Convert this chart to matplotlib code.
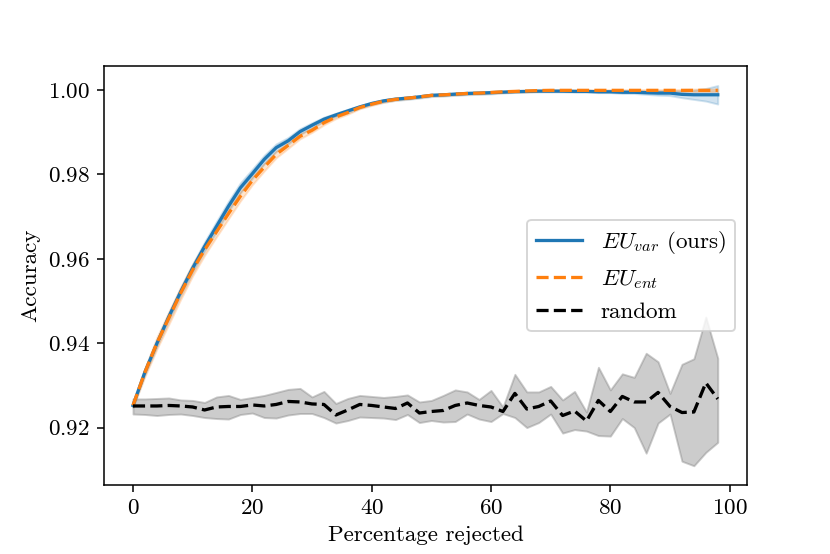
import numpy as np
import matplotlib
matplotlib.use('Agg')
import matplotlib.pyplot as plt

plt.rcParams['font.family'] = 'cmr10'
plt.rcParams['font.size'] = 12
plt.rcParams['mathtext.fontset'] = 'cm'
plt.rcParams['axes.formatter.use_mathtext'] = True

# percentage of rejected samples
rejected = list(range(0, 100, 2))

# EU_var (ours): mean accuracy and spread
var_mean = [0.92524, 0.93317, 0.93993, 0.94626, 0.95221, 0.95779, 0.96293, 0.96769, 0.97245, 0.97683,
            0.98017, 0.98357, 0.98636, 0.98798, 0.99017, 0.99167, 0.99310, 0.99412, 0.99507, 0.99602,
            0.99683, 0.99745, 0.99786, 0.99810, 0.99840, 0.99876, 0.99888, 0.99905, 0.99921, 0.99929,
            0.99940, 0.99952, 0.99964, 0.99969, 0.99976, 0.99976, 0.99976, 0.99970, 0.99970, 0.99960,
            0.99960, 0.99950, 0.99950, 0.99940, 0.99930, 0.99930, 0.99900, 0.99890, 0.99890, 0.99890]
var_std = [0.0004, 0.0006, 0.0007, 0.0008, 0.0009, 0.0010, 0.0011, 0.0012, 0.0012, 0.0012,
           0.0011, 0.0010, 0.0009, 0.0008, 0.0007, 0.0006, 0.0005, 0.0004, 0.0004, 0.0003,
           0.0003, 0.0003, 0.0003, 0.0003, 0.0003, 0.0003, 0.0003, 0.0003, 0.0003, 0.0003,
           0.0003, 0.0002, 0.0002, 0.0002, 0.0002, 0.0002, 0.0002, 0.0002, 0.0002, 0.0002,
           0.0002, 0.0003, 0.0003, 0.0004, 0.0005, 0.0006, 0.0008, 0.0011, 0.0015, 0.0022]

# EU_ent: mean accuracy and spread
ent_mean = [0.92524, 0.93310, 0.94000, 0.94595, 0.95190, 0.95738, 0.96214, 0.96643, 0.97071, 0.97483,
            0.97857, 0.98174, 0.98476, 0.98690, 0.98905, 0.99048, 0.99226, 0.99364, 0.99469, 0.99588,
            0.99667, 0.99738, 0.99781, 0.99810, 0.99840, 0.99876, 0.99888, 0.99905, 0.99921, 0.99929,
            0.99945, 0.99960, 0.99970, 0.99980, 0.99990, 0.99995, 0.99995, 0.99995, 0.99995, 0.99995,
            0.99995, 0.99995, 0.99995, 0.99995, 0.99995, 0.99995, 0.99995, 0.99995, 0.99995, 0.99995]
ent_std = [0.0004, 0.0010, 0.0014, 0.0015, 0.0015, 0.0014, 0.0013, 0.0012, 0.0012, 0.0011,
           0.0010, 0.0009, 0.0008, 0.0007, 0.0006, 0.0005, 0.0005, 0.0004, 0.0004, 0.0003,
           0.0003, 0.0003, 0.0002, 0.0002, 0.0002, 0.0002, 0.0002, 0.0002, 0.0002, 0.0002,
           0.0002, 0.0002, 0.0002, 0.0002, 0.0002, 0.0002, 0.0002, 0.0002, 0.0002, 0.0002,
           0.0002, 0.0002, 0.0002, 0.0002, 0.0002, 0.0002, 0.0002, 0.0003, 0.0003, 0.0003]

# random rejection: mean with lower / upper band
rnd_mean = [0.92512, 0.92512, 0.92512, 0.92524, 0.92512, 0.92488, 0.92417, 0.92488, 0.92500, 0.92500,
            0.92536, 0.92512, 0.92548, 0.92619, 0.92607, 0.92560, 0.92548, 0.92298, 0.92417, 0.92548,
            0.92524, 0.92488, 0.92452, 0.92583, 0.92345, 0.92381, 0.92405, 0.92524, 0.92583, 0.92524,
            0.92488, 0.92381, 0.92810, 0.92440, 0.92500, 0.92631, 0.92286, 0.92393, 0.92155, 0.92643,
            0.92381, 0.92738, 0.92607, 0.92607, 0.92833, 0.92500, 0.92357, 0.92369, 0.93060, 0.92679]
rnd_hi = [0.92679, 0.92679, 0.92690, 0.92702, 0.92655, 0.92643, 0.92595, 0.92726, 0.92762, 0.92667,
          0.92714, 0.92762, 0.92833, 0.92905, 0.92929, 0.92726, 0.92857, 0.92571, 0.92690, 0.92762,
          0.92738, 0.92714, 0.92738, 0.92774, 0.92607, 0.92643, 0.92762, 0.92893, 0.92845, 0.92667,
          0.92881, 0.92488, 0.93262, 0.92845, 0.92845, 0.92976, 0.92655, 0.92857, 0.92369, 0.93429,
          0.92893, 0.93274, 0.93190, 0.93762, 0.93560, 0.92810, 0.93500, 0.93631, 0.94619, 0.93643]
rnd_lo = [0.92321, 0.92310, 0.92286, 0.92310, 0.92321, 0.92286, 0.92238, 0.92214, 0.92202, 0.92310,
          0.92345, 0.92238, 0.92226, 0.92298, 0.92333, 0.92333, 0.92238, 0.92107, 0.92167, 0.92250,
          0.92238, 0.92226, 0.92190, 0.92310, 0.92119, 0.92167, 0.92131, 0.92143, 0.92321, 0.92202,
          0.92143, 0.92333, 0.92238, 0.92000, 0.92119, 0.92321, 0.91869, 0.91952, 0.91917, 0.91810,
          0.91798, 0.92214, 0.92000, 0.91393, 0.92107, 0.92321, 0.91202, 0.91095, 0.91412, 0.91650]

x = np.array(rejected)
vm, vs = np.array(var_mean), np.array(var_std)
em, es = np.array(ent_mean), np.array(ent_std)

fig = plt.figure(figsize=(830 / 138.4, 554 / 138.4), dpi=138.4)
ax = fig.add_axes([0.125, 0.125, 0.775, 0.755])

ax.fill_between(x, vm - vs, vm + vs, color='C0', alpha=0.2)
ax.plot(x, vm, color='C0', lw=1.7, label=r'$EU_{var}$ (ours)')
ax.fill_between(x, em - es, em + es, color='C1', alpha=0.2)
ax.plot(x, em, '--', color='C1', lw=1.7, label=r'$EU_{ent}$')
ax.fill_between(x, rnd_lo, rnd_hi, color='gray', alpha=0.4)
ax.plot(x, rnd_mean, 'k--', lw=1.7, label='random')

ax.set_xlabel('Percentage rejected')
ax.set_ylabel('Accuracy')
ax.legend(loc='center right')

fig.savefig('out.png', dpi=138.4)
